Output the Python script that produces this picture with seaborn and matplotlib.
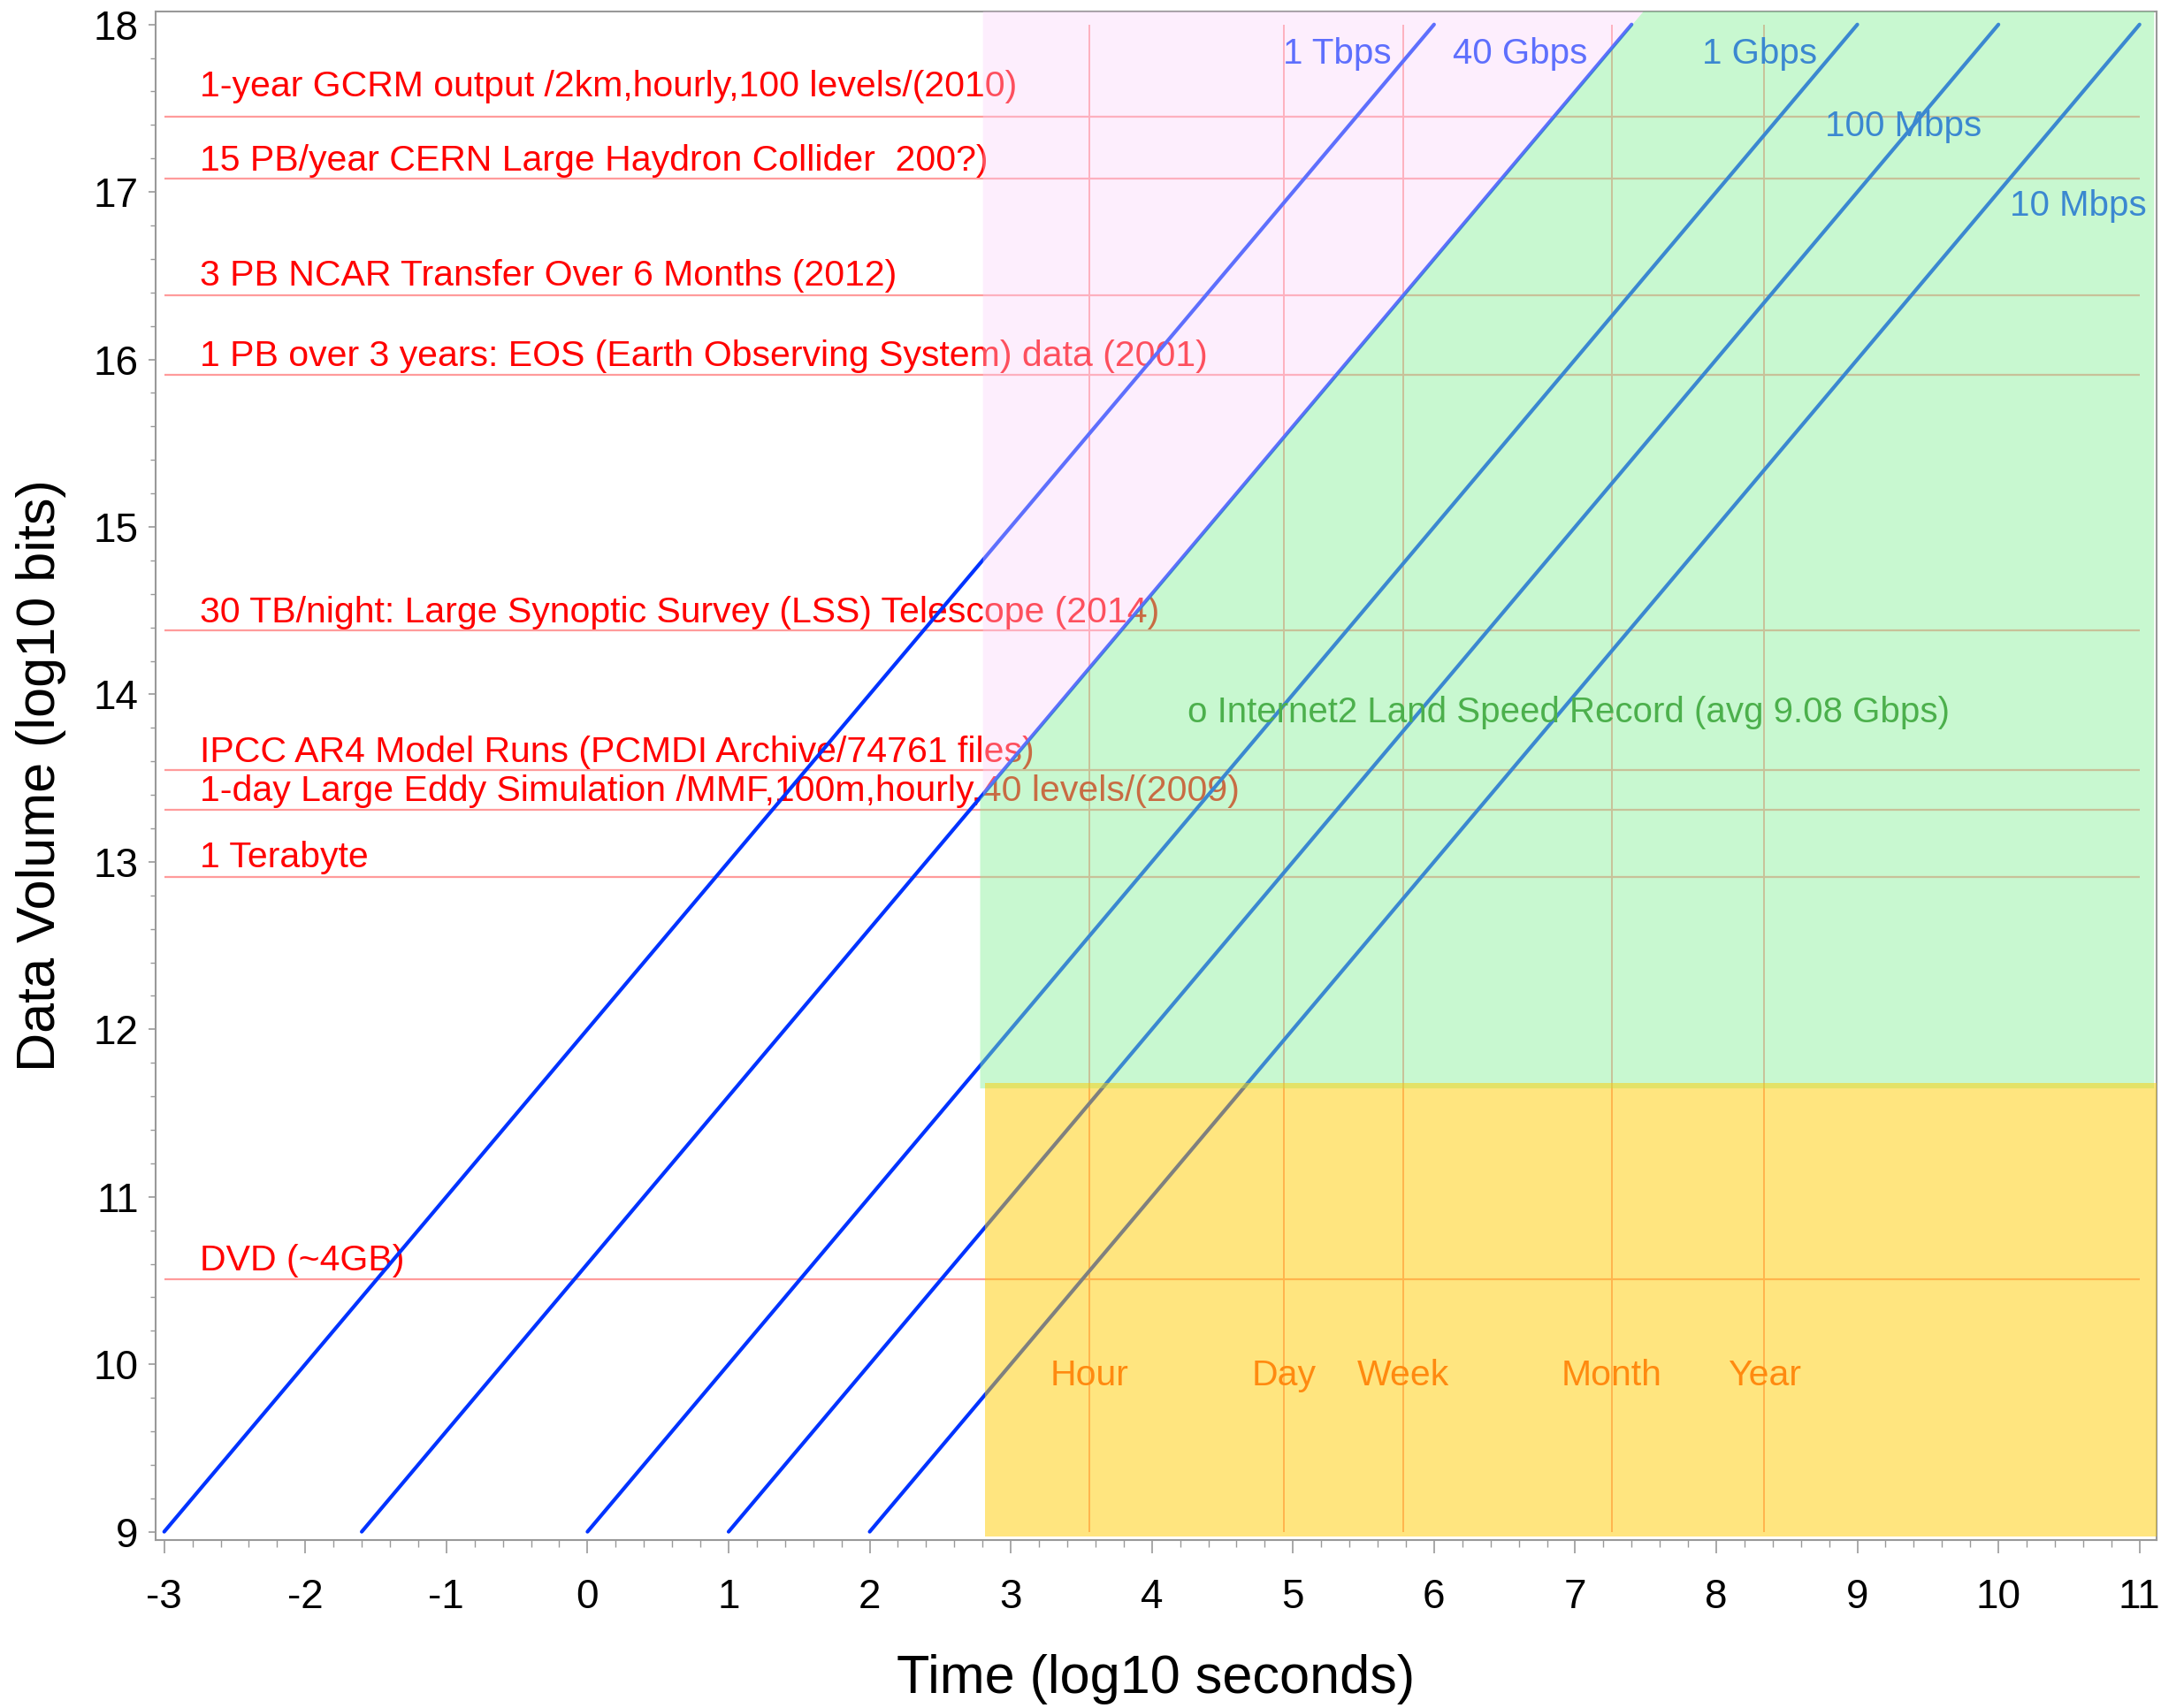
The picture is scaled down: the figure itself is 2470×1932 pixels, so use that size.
import numpy as np
import pandas as pd
import matplotlib
matplotlib.use('Agg')
from matplotlib import pyplot as plt
from matplotlib.ticker import MultipleLocator
import seaborn as sns

# link speeds: each line runs from (t_start, 9) to (t_end, 18) in log10 units
speed_names = ['1 Tbps', '40 Gbps', '1 Gbps', '100 Mbps', '10 Mbps']
speed_t_start = [-3.0, -1.6, 0.0, 1.0, 2.0]
speed_t_end = [6.0, 7.4, 9.0, 10.0, 11.0]
vol_start = 9.0
vol_end = 18.0

# data volumes (log10 bits)
volume_names = [
    '1-year GCRM output /2km,hourly,100 levels/(2010)',
    '15 PB/year CERN Large Haydron Collider  200?)',
    '3 PB NCAR Transfer Over 6 Months (2012)',
    '1 PB over 3 years: EOS (Earth Observing System) data (2001)',
    '30 TB/night: Large Synoptic Survey (LSS) Telescope (2014)',
    'IPCC AR4 Model Runs (PCMDI Archive/74761 files)',
    '1-day Large Eddy Simulation /MMF,100m,hourly,40 levels/(2009)',
    '1 Terabyte',
    'DVD (~4GB)',
]
volume_levels = [17.45, 17.08, 16.385, 15.91, 14.38, 13.55, 13.31, 12.91, 10.51]

# time marks (log10 seconds)
time_names = ['Hour', 'Day', 'Week', 'Month', 'Year']
time_marks = [3.556, 4.936, 5.782, 7.26, 8.34]

record_label = 'o Internet2 Land Speed Record (avg 9.08 Gbps)'

# shaded zones
zone_left = 2.78
zone_right = 11.1
zone_split = 11.65   # yellow below, green above
zone_top = 18.08
zone_bottom = 8.97


sns.set_theme(style='white')
plt.rcParams['font.family'] = ['Liberation Sans', 'DejaVu Sans']
plt.rcParams['axes.unicode_minus'] = False

fig, ax = plt.subplots(figsize=(24.7, 19.32), dpi=100)
fig.subplots_adjust(left=0.0713, right=0.9874, top=0.9935, bottom=0.0983)

# speed lines
rows = []
for name, t0, t1 in zip(speed_names, speed_t_start, speed_t_end):
    rows.append((name, t0, vol_start))
    rows.append((name, t1, vol_end))
lines = pd.DataFrame(rows, columns=['link', 'time', 'volume'])
sns.lineplot(data=lines, x='time', y='volume', hue='link', palette=['#0033ff'] * len(speed_names),
             estimator=None, sort=False, lw=3, legend=False, ax=ax, zorder=2)

# reference lines
ax.hlines(volume_levels, -3, 11, color='#ff8a8a', lw=1.6, alpha=0.85, zorder=1)
ax.vlines(time_marks, vol_start, vol_end, color='#ff9c9c', lw=1.4, zorder=1)

# volume labels (sit just above their line)
lift = [0.12, 0.047, 0.058, 0.053, 0.05, 0.044, 0.053, 0.058, 0.05]
for name, lvl, dy in zip(volume_names, volume_levels, lift):
    ax.text(-2.75, lvl + dy, name, color='#ff0000', fontsize=29.5, va='baseline', ha='left', zorder=1.5)

# speed labels
speed_lab_x = [4.93, 6.13, 7.9, 8.77, 10.08]
speed_lab_y = [17.765, 17.765, 17.765, 17.335, 16.86]
for name, lx, ly in zip(speed_names, speed_lab_x, speed_lab_y):
    ax.text(lx, ly, name, color='#0033ff', fontsize=29, va='baseline', ha='left', zorder=1.5)

# shaded zones, drawn on top with transparency
i40 = speed_names.index('40 Gbps')
off40 = vol_start - speed_t_start[i40]
x_cross = zone_top - off40
ax.fill_between([zone_left, x_cross, zone_right],
                [zone_split] * 3,
                [zone_left + off40, zone_top, zone_top],
                color='#85f097', alpha=0.45, lw=0, zorder=3)
ax.fill_between([zone_left + 0.02, x_cross],
                [zone_left + 0.02 + off40, zone_top],
                [zone_top, zone_top],
                color='#fad3fa', alpha=0.38, lw=0, zorder=3)
ax.fill_between([zone_left + 0.04, zone_right + 0.02],
                [zone_bottom] * 2, [zone_split + 0.03] * 2,
                color='#ffcd00', alpha=0.5, lw=0, zorder=3)

ax.text(4.25, 13.833, record_label, color='#4cb04c', fontsize=29, va='baseline', ha='left', zorder=4)
for name, t in zip(time_names, time_marks):
    ax.text(t, 9.876, name, color='#ff8a10', fontsize=29.5, va='baseline', ha='center', zorder=4)

ax.set_xlim(-3.06, 11.12)
ax.set_ylim(8.95, 18.08)
ax.xaxis.set_major_locator(MultipleLocator(1))
ax.xaxis.set_minor_locator(MultipleLocator(0.2))
ax.yaxis.set_major_locator(MultipleLocator(1))
ax.yaxis.set_minor_locator(MultipleLocator(0.2))

for sp in ax.spines.values():
    sp.set_color('#999999')
    sp.set_linewidth(1.5)
ax.tick_params(axis='x', which='major', bottom=True, length=11, width=1.2, color='#999999', pad=20,
               labelsize=33, labelcolor='black')
ax.tick_params(axis='x', which='minor', bottom=True, length=6, width=1.0, color='#999999')
ax.tick_params(axis='y', which='major', left=True, length=6, width=1.2, color='#999999', pad=8,
               labelsize=33, labelcolor='black')
ax.tick_params(axis='y', which='minor', left=True, length=4, width=1.0, color='#999999')

ax.set_xlabel('Time (log10 seconds)', fontsize=44, labelpad=30, color='black')
ax.set_ylabel('Data Volume (log10 bits)', fontsize=44, labelpad=22, color='black')
ax.grid(False)

plt.savefig('out.png', dpi=100, facecolor='white')
